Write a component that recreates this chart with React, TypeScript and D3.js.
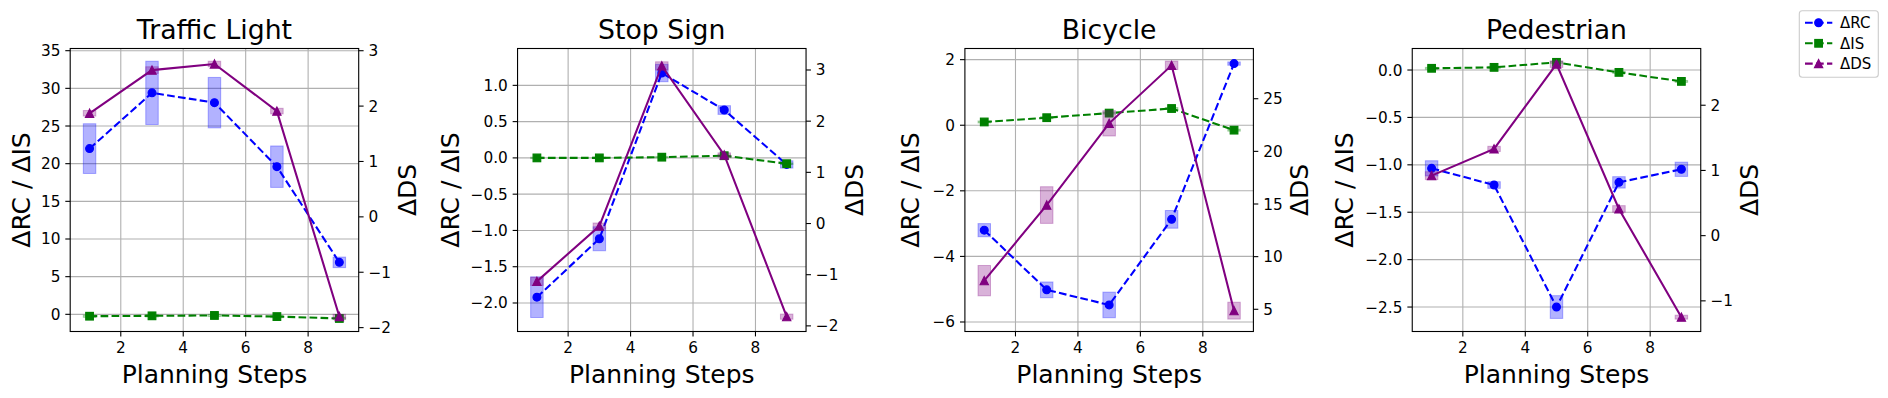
import * as d3 from 'd3'

// planning steps on the x axis
const steps = [1, 3, 5, 7, 9]
const titles = ['Traffic Light', 'Stop Sign', 'Bicycle', 'Pedestrian']

// ΔRC (left axis) per panel, with half-height of the shaded box
const rcMean = [
  [22.0, 29.4, 28.1, 19.6, 6.9],
  [-1.92, -1.115, 1.17, 0.66, -0.09],
  [-3.2, -5.02, -5.48, -2.87, 1.88],
  [-1.037, -1.213, -2.5, -1.185, -1.047],
]
const rcErr = [
  [3.3, 4.2, 3.35, 2.75, 0.7],
  [0.28, 0.165, 0.12, 0.06, 0.05],
  [0.2, 0.24, 0.39, 0.27, 0.05],
  [0.08, 0.035, 0.12, 0.06, 0.075],
]

// ΔIS (left axis)
const isMean = [
  [-0.25, -0.2, -0.15, -0.3, -0.55],
  [0.0, 0.0, 0.01, 0.03, -0.08],
  [0.1, 0.23, 0.37, 0.51, -0.15],
  [0.018, 0.028, 0.081, -0.025, -0.12],
]
const isErr = [
  [0.15, 0.15, 0.15, 0.15, 0.15],
  [0.01, 0.01, 0.01, 0.01, 0.01],
  [0.03, 0.03, 0.03, 0.03, 0.03],
  [0.01, 0.01, 0.01, 0.01, 0.01],
]

// ΔDS (right axis)
const dsMean = [
  [1.87, 2.65, 2.76, 1.91, -1.8],
  [-1.13, -0.05, 3.08, 1.34, -1.82],
  [7.72, 14.9, 22.66, 28.17, 4.87],
  [0.92, 1.33, 2.63, 0.41, -1.25],
]
const dsErr = [
  [0.05, 0.06, 0.05, 0.05, 0.04],
  [0.08, 0.06, 0.08, 0.04, 0.05],
  [1.44, 1.74, 1.2, 0.4, 0.8],
  [0.06, 0.04, 0.05, 0.05, 0.03],
]

// axis ranges and ticks
const leftDomain = [[-2.28, 35.29], [-2.393, 1.508], [-6.29, 2.34], [-2.758, 0.227]]
const rightDomain = [[-2.07, 3.04], [-2.11, 3.42], [2.89, 29.77], [-1.47, 2.87]]
const leftTicks = [
  [0, 5, 10, 15, 20, 25, 30, 35],
  [-2, -1.5, -1, -0.5, 0, 0.5, 1],
  [-6, -4, -2, 0, 2],
  [-2.5, -2, -1.5, -1, -0.5, 0],
]
const leftDecimals = [0, 1, 0, 1]
const rightTicks = [
  [-2, -1, 0, 1, 2, 3],
  [-2, -1, 0, 1, 2, 3],
  [5, 10, 15, 20, 25],
  [-1, 0, 1, 2],
]
const xTicks = [2, 4, 6, 8]

const series = [
  { label: 'ΔRC', color: 'blue', marker: 'circle' },
  { label: 'ΔIS', color: 'green', marker: 'square' },
  { label: 'ΔDS', color: 'purple', marker: 'triangle' },
]

const FONT = 'DejaVu Sans, sans-serif'
const TOP = 48.5
const BOTTOM = 331.5
const W = 288.5
const LEFT0 = 70.2
const STEP = 447.35
const leftLabelGap = [40.7, 59, 46, 59]
const rightLabelGap = [57.4, 57.4, 54.7, 57.4]
const LW = 2.08
const DASH = '7.7,3.3'

const fmt = (d: number, dec: number) => d.toFixed(dec).replace('-', '\u2212')

function Marker({ type, cx, cy, color }: { type: string; cx: number; cy: number; color: string }) {
  if (type === 'circle') return <circle cx={cx} cy={cy} r={3.9} fill={color} stroke={color} strokeWidth={1.2} />
  if (type === 'square') return <rect x={cx - 3.8} y={cy - 3.8} width={7.6} height={7.6} fill={color} stroke={color} strokeWidth={1.2} />
  const s = 4.1
  return <path d={`M${cx},${cy - s}L${cx - s},${cy + s}L${cx + s},${cy + s}Z`} fill={color} stroke={color} strokeWidth={1.2} strokeLinejoin='miter' />
}

function Panel({ i }: { i: number }) {
  const left = LEFT0 + i * STEP
  const right = left + W
  const x = d3.scaleLinear().domain([0.38, 9.62]).range([left, right])
  const yL = d3.scaleLinear().domain(leftDomain[i]).range([BOTTOM, TOP])
  const yR = d3.scaleLinear().domain(rightDomain[i]).range([BOTTOM, TOP])
  const lineL = d3.line<number>().x((_, k) => x(steps[k])).y(d => yL(d))
  const lineR = d3.line<number>().x((_, k) => x(steps[k])).y(d => yR(d))
  const midY = (TOP + BOTTOM) / 2

  const boxes = (mean: number[], err: number[], y: d3.ScaleLinear<number, number>, color: string) =>
    mean.map((m, k) => (
      <rect
        key={k}
        x={x(steps[k] - 0.2)}
        y={y(m + err[k])}
        width={x(steps[k] + 0.2) - x(steps[k] - 0.2)}
        height={y(m - err[k]) - y(m + err[k])}
        fill={color}
        fillOpacity={0.3}
        stroke={color}
        strokeOpacity={0.3}
        strokeWidth={1}
      />
    ))

  return (
    <g>
      {/* grid */}
      {xTicks.map(t => (
        <line key={'gx' + t} x1={x(t)} x2={x(t)} y1={TOP} y2={BOTTOM} stroke='#b0b0b0' strokeWidth={1.1} />
      ))}
      {leftTicks[i].map(t => (
        <line key={'gy' + t} x1={left} x2={right} y1={yL(t)} y2={yL(t)} stroke='#b0b0b0' strokeWidth={1.1} />
      ))}

      {/* left axis series */}
      {boxes(rcMean[i], rcErr[i], yL, 'blue')}
      {boxes(isMean[i], isErr[i], yL, 'green')}
      <path d={lineL(rcMean[i]) || ''} fill='none' stroke='blue' strokeWidth={LW} strokeDasharray={DASH} />
      {rcMean[i].map((v, k) => <Marker key={'rc' + k} type='circle' cx={x(steps[k])} cy={yL(v)} color='blue' />)}
      <path d={lineL(isMean[i]) || ''} fill='none' stroke='green' strokeWidth={LW} strokeDasharray={DASH} />
      {isMean[i].map((v, k) => <Marker key={'is' + k} type='square' cx={x(steps[k])} cy={yL(v)} color='green' />)}

      {/* right axis series */}
      {boxes(dsMean[i], dsErr[i], yR, 'purple')}
      <path d={lineR(dsMean[i]) || ''} fill='none' stroke='purple' strokeWidth={LW} />
      {dsMean[i].map((v, k) => <Marker key={'ds' + k} type='triangle' cx={x(steps[k])} cy={yR(v)} color='purple' />)}

      {/* frame */}
      <rect x={left} y={TOP} width={W} height={BOTTOM - TOP} fill='none' stroke='black' strokeWidth={1.1} />

      {/* ticks */}
      {xTicks.map(t => (
        <g key={'tx' + t}>
          <line x1={x(t)} x2={x(t)} y1={BOTTOM} y2={BOTTOM + 4.9} stroke='black' strokeWidth={1.1} />
          <text x={x(t)} y={BOTTOM + 21.8} textAnchor='middle' fontSize={15.3}>{fmt(t, 0)}</text>
        </g>
      ))}
      {leftTicks[i].map(t => (
        <g key={'tl' + t}>
          <line x1={left - 4.9} x2={left} y1={yL(t)} y2={yL(t)} stroke='black' strokeWidth={1.1} />
          <text x={left - 9.8} y={yL(t) + 5.5} textAnchor='end' fontSize={15.3}>{fmt(t, leftDecimals[i])}</text>
        </g>
      ))}
      {rightTicks[i].map(t => (
        <g key={'tr' + t}>
          <line x1={right} x2={right + 4.9} y1={yR(t)} y2={yR(t)} stroke='black' strokeWidth={1.1} />
          <text x={right + 9.8} y={yR(t) + 5.5} textAnchor='start' fontSize={15.3}>{fmt(t, 0)}</text>
        </g>
      ))}

      {/* labels */}
      <text x={(left + right) / 2} y={39.3} textAnchor='middle' fontSize={26.7}>{titles[i]}</text>
      <text x={(left + right) / 2} y={383} textAnchor='middle' fontSize={25}>Planning Steps</text>
      <text transform={`translate(${left - leftLabelGap[i]},${midY}) rotate(-90)`} textAnchor='middle' fontSize={25}>ΔRC / ΔIS</text>
      <text transform={`translate(${right + rightLabelGap[i]},${midY}) rotate(-90)`} textAnchor='middle' fontSize={25}>ΔDS</text>
    </g>
  )
}

function Legend() {
  const lx = 1799.3
  const ly = 10.7
  const rows = [22.7, 43.3, 63.6]
  return (
    <g>
      <rect x={lx} y={ly} width={79} height={66.6} rx={3} fill='white' fillOpacity={0.8} stroke='#cccccc' strokeWidth={1.1} />
      {series.map((s, k) => (
        <g key={s.label}>
          <line x1={lx + 5.7} x2={lx + 33} y1={rows[k]} y2={rows[k]} stroke={s.color} strokeWidth={LW} strokeDasharray={DASH} />
          <Marker type={s.marker} cx={lx + 19.3} cy={rows[k]} color={s.color} />
          <text x={lx + 40.7} y={rows[k] + 5.4} fontSize={15}>{s.label}</text>
        </g>
      ))}
    </g>
  )
}

export default function App() {
  return (
    <div style={{ position: 'absolute', left: 0, top: 0 }}>
      <svg width={1888} height={398} fontFamily={FONT} style={{ display: 'block', background: 'white' }}>
        {titles.map((_, i) => <Panel key={i} i={i} />)}
        <Legend />
      </svg>
    </div>
  )
}
